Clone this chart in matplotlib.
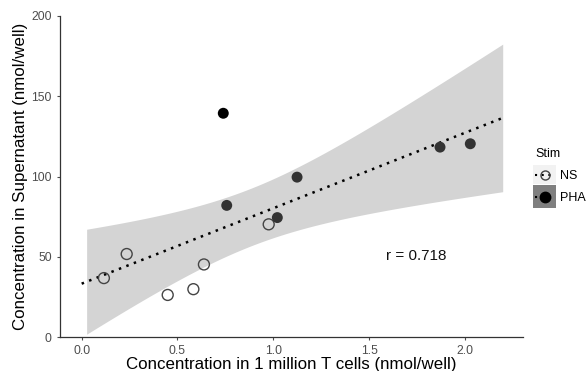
import numpy as np
import matplotlib
matplotlib.use("Agg")
import matplotlib.pyplot as plt
from matplotlib.patches import Rectangle
from matplotlib.lines import Line2D

plt.rcParams['font.family'] = ['Liberation Sans', 'DejaVu Sans']

# Data
ns_x = [0.116, 0.235, 0.449, 0.583, 0.638, 0.976]
ns_y = [36.7, 51.7, 26.2, 29.8, 45.2, 70.2]
pha_x = [0.739, 0.757, 1.021, 1.124, 1.870, 2.028]
pha_y = [139.4, 82.0, 74.4, 99.6, 118.3, 120.4]
pha_colors = ['#000000', '#333333', '#333333', '#333333', '#333333', '#333333']
x_ticks = [0.0, 0.5, 1.0, 1.5, 2.0]
y_ticks = [0, 50, 100, 150, 200]
r_label = "r = 0.718"

fig = plt.figure(figsize=(5.86, 3.71), dpi=100)
ax = fig.add_axes([60/586, 1-337/371, (523-60)/586, (337-16)/371])

# regression with 95% CI
allx = np.array(ns_x + pha_x)
ally = np.array(ns_y + pha_y)
n = len(allx)
slope, intercept = np.polyfit(allx, ally, 1)
resid = ally - (intercept + slope * allx)
s = np.sqrt(np.sum(resid**2) / (n - 2))
sxx = np.sum((allx - allx.mean())**2)
tval = 2.228
xr = np.linspace(0.026, 2.197, 200)
yr = intercept + slope * xr
se = s * np.sqrt(1/n + (xr - allx.mean())**2 / sxx)
ax.fill_between(xr, yr - tval*se, yr + tval*se, color='#d4d4d4', lw=0, zorder=1)
xl = np.linspace(0.0, 2.197, 2)
ax.plot(xl, intercept + slope*xl, color='black', lw=1.8,
        linestyle=(0, (1, 2.2)), dash_capstyle='butt', zorder=2)

ax.scatter(ns_x, ns_y, s=62, facecolors='none', edgecolors='#444444',
           linewidths=1.0, zorder=3)
ax.scatter(pha_x, pha_y, s=62, c=pha_colors, edgecolors='none', zorder=3)

ax.text(1.745, 50.5, r_label, fontsize=11, ha='center', va='center', color='#111111')

ax.set_xlim(-0.113, 2.303)
ax.set_ylim(0, 200)
ax.set_xticks(x_ticks)
ax.set_xticklabels([f"{t:.1f}" for t in x_ticks])
ax.set_yticks(y_ticks)
ax.set_yticklabels([str(t) for t in y_ticks])
ax.tick_params(axis='both', labelsize=8.7, colors='#4d4d4d', labelcolor='#4d4d4d',
               length=2.5, width=0.8)
for side in ['top', 'right']:
    ax.spines[side].set_visible(False)
for side in ['left', 'bottom']:
    ax.spines[side].set_color('#333333')
    ax.spines[side].set_linewidth(0.9)
ax.set_xlabel("Concentration in 1 million T cells (nmol/well)", fontsize=12.2,
              color='black', labelpad=0)
ax.set_ylabel("Concentration in Supernatant (nmol/well)", fontsize=12.2,
              color='black', labelpad=2)

# legend
W, H = 586, 371
def fx(px): return px / W
def fy(py): return 1 - py / H
fig.text(fx(535), fy(154), "Stim", fontsize=9, ha='left', va='center')
fig.patches.append(Rectangle((fx(533), fy(184)), 23/W, 19/H, transform=fig.transFigure,
                             facecolor='#f2f2f2', edgecolor='none'))
fig.patches.append(Rectangle((fx(533), fy(208)), 23/W, 23/H, transform=fig.transFigure,
                             facecolor='#7f7f7f', edgecolor='none'))
for yc, mfc, mec, ms in [(175, 'none', '#444444', 6.5), (197, '#000000', '#000000', 7.5)]:
    fig.lines.append(Line2D([fx(535), fx(555)], [fy(yc), fy(yc)], transform=fig.transFigure,
                            color='black', lw=1.5, linestyle=(0, (1, 2.2))))
    fig.lines.append(Line2D([fx(544.5)], [fy(yc)], transform=fig.transFigure,
                            marker='o', ms=ms, mfc=mfc, mec=mec, mew=1.0, linestyle='none'))
fig.text(fx(560), fy(176), "NS", fontsize=9, ha='left', va='center')
fig.text(fx(560), fy(198), "PHA", fontsize=9, ha='left', va='center')

fig.savefig("out.png", dpi=100)
